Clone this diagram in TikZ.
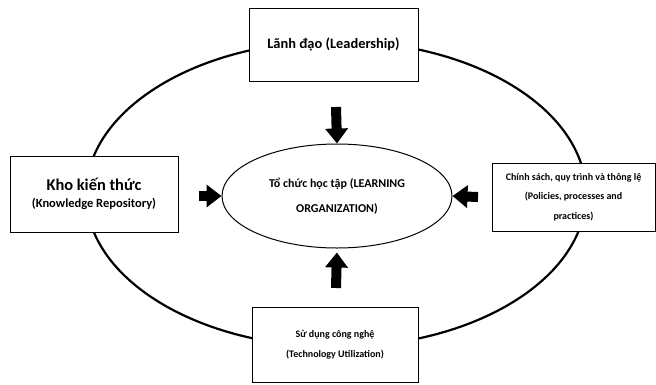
\documentclass[tikz,border=0pt]{standalone}
\usepackage{fontspec}
\setmainfont{Carlito}
\usetikzlibrary{arrows.meta,shapes.geometric}
\tikzset{
  box/.style={draw=black, line width=1pt, fill=white, rectangle, inner sep=0pt, align=center},
  ring/.style={draw=black, line width=2.2pt},
  core/.style={draw=black, line width=1pt, ellipse, inner sep=0pt, align=center,
    minimum width=230pt, minimum height=104pt, font=\bfseries\fontsize{12}{25}\selectfont},
  blockarrow/.style={line width=10pt, -{Triangle[width=22pt,length=15pt]}},
}
\begin{document}
\begin{tikzpicture}[x=1pt,y=-1pt]
\useasboundingbox[fill=white] (0,0) rectangle (656,384);
% outer ring
\draw[ring] (336,194) ellipse [x radius=250pt, y radius=153pt];
% boxes
\node[box, minimum width=169pt, minimum height=73pt, font=\bfseries\fontsize{14.4}{18}\selectfont] (lead) at (333.5,44.5) {Lãnh đạo (Leadership)};
\node[box, minimum width=168pt, minimum height=76pt, font=\bfseries] (know) at (94,194)
  {\fontsize{16.4}{20}\selectfont Kho kiến thức\\[5pt]\fontsize{12.5}{20}\selectfont (Knowledge Repository)};
\node[box, minimum width=163pt, minimum height=68pt, font=\bfseries\fontsize{10}{19.5}\selectfont] (pol) at (573.5,197)
  {Chính sách, quy trình và thông lệ\\(Policies, processes and\\practices)};
\node[box, minimum width=166pt, minimum height=75pt, font=\bfseries\fontsize{10}{20}\selectfont] (tech) at (335,344.5)
  {Sử dụng công nghệ\\(Technology Utilization)};
% centre
\node[core] (lo) at (337,196) {Tổ chức học tập (LEARNING\\ORGANIZATION)};
% arrows
\coordinate (ta) at (336,107);
\coordinate (la) at (199,196);
\coordinate (ra) at (478,197);
\coordinate (ba) at (336,288);
\draw[blockarrow] (ta) -- (lo.north);
\draw[blockarrow] (la) -- (lo.west);
\draw[blockarrow] (ra) -- (lo.east);
\draw[blockarrow, shorten >=4pt] (ba) -- (lo.south);
\end{tikzpicture}
\end{document}
